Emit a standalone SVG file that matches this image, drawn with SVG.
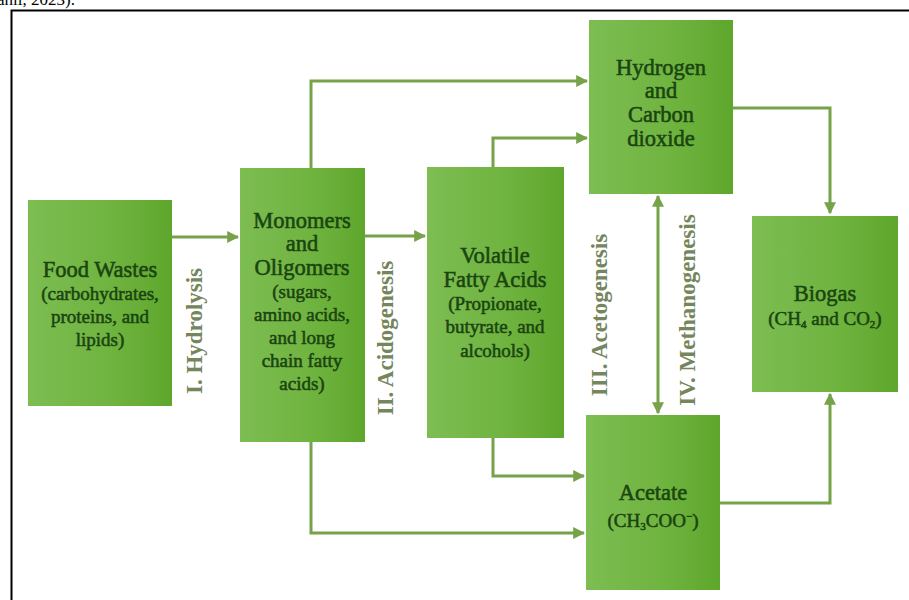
<svg xmlns="http://www.w3.org/2000/svg" width="909" height="600" viewBox="0 0 909 600">
<defs>
<linearGradient id="g" x1="0" y1="0" x2="1" y2="0">
<stop offset="0" stop-color="#7dbd52"/>
<stop offset="0.6" stop-color="#6fb33f"/>
<stop offset="1" stop-color="#5ea62c"/>
</linearGradient>
<marker id="ah" viewBox="0 0 10 10" refX="9" refY="5" markerWidth="4" markerHeight="4" orient="auto-start-reverse" markerUnits="strokeWidth">
<path d="M0,0 L10,5 L0,10 z" fill="#76a24a"/>
</marker>
<style>
.box{fill:url(#g);}
.t{font-family:"Liberation Serif","Times New Roman",serif;fill:#1a4510;text-anchor:middle;stroke:#1a4510;stroke-width:0.55;}
.h{font-size:22.5px;}
.s{font-size:19px;}
.lab{font-family:"Liberation Serif","Times New Roman",serif;font-weight:bold;font-size:23px;fill:#75855c;text-anchor:middle;}
.c{fill:none;stroke:#76a24a;stroke-width:3;}
</style>
</defs>
<rect width="909" height="600" fill="#ffffff"/>
<text x="-3" y="5" font-family="Liberation Serif, serif" font-size="17" fill="#000">ahli, 2023).</text>
<path d="M11.5,600 V10.5 H909" fill="none" stroke="#000" stroke-width="2"/>

<g id="connectors">
<path class="c" d="M172,237 H238" marker-end="url(#ah)"/>
<path class="c" d="M365,236 H425" marker-end="url(#ah)"/>
<path class="c" d="M311,168 V81 H587" marker-end="url(#ah)"/>
<path class="c" d="M493,167 V138 H587" marker-end="url(#ah)"/>
<path class="c" d="M311,442 V533 H584" marker-end="url(#ah)"/>
<path class="c" d="M493,438 V476 H584" marker-end="url(#ah)"/>
<path class="c" d="M733,108 H830 V213" marker-end="url(#ah)"/>
<path class="c" d="M720,503 H830 V394" marker-end="url(#ah)"/>
<path class="c" d="M658,196 V413" marker-start="url(#ah)" marker-end="url(#ah)"/>
</g>

<g id="food-wastes">
<rect class="box" x="28" y="200" width="144" height="206"/>
<text class="t h" x="100" y="277">Food Wastes</text>
<text class="t s" x="100" y="300">(carbohydrates,</text>
<text class="t s" x="100" y="323">proteins, and</text>
<text class="t s" x="100" y="346">lipids)</text>
</g>

<g id="monomers">
<rect class="box" x="240" y="168" width="125" height="274"/>
<text class="t h" x="302" y="228">Monomers</text>
<text class="t h" x="302" y="251">and</text>
<text class="t h" x="302" y="275">Oligomers</text>
<text class="t s" x="302" y="298">(sugars,</text>
<text class="t s" x="302" y="321">amino acids,</text>
<text class="t s" x="302" y="344">and long</text>
<text class="t s" x="302" y="367">chain fatty</text>
<text class="t s" x="302" y="390">acids)</text>
</g>

<g id="vfa">
<rect class="box" x="427" y="167" width="137" height="271"/>
<text class="t h" x="495" y="263">Volatile</text>
<text class="t h" x="495" y="287">Fatty Acids</text>
<text class="t s" x="495" y="310">(Propionate,</text>
<text class="t s" x="495" y="333">butyrate, and</text>
<text class="t s" x="495" y="357">alcohols)</text>
</g>

<g id="hydrogen-co2">
<rect class="box" x="589" y="20" width="144" height="174"/>
<text class="t h" x="661" y="75">Hydrogen</text>
<text class="t h" x="661" y="98">and</text>
<text class="t h" x="661" y="122">Carbon</text>
<text class="t h" x="661" y="146">dioxide</text>
</g>

<g id="acetate">
<rect class="box" x="586" y="415" width="134" height="175"/>
<text class="t h" x="653" y="500">Acetate</text>
<text class="t s" x="653" y="527">(CH<tspan font-size="11" dy="3">3</tspan><tspan dy="-3">COO</tspan><tspan font-size="11" dy="-7">−</tspan><tspan dy="7">)</tspan></text>
</g>

<g id="biogas">
<rect class="box" x="752" y="216" width="146" height="176"/>
<text class="t h" x="825" y="301">Biogas</text>
<text class="t s" x="825" y="325">(CH<tspan font-size="11" dy="3">4</tspan><tspan dy="-3"> and CO</tspan><tspan font-size="11" dy="3">2</tspan><tspan dy="-3">)</tspan></text>
</g>

<g id="labels">
<text class="lab" transform="translate(202,331) rotate(-90)">I. Hydrolysis</text>
<text class="lab" transform="translate(393,338) rotate(-90)">II. Acidogenesis</text>
<text class="lab" transform="translate(607,315) rotate(-90)">III. Acetogenesis</text>
<text class="lab" transform="translate(695,310) rotate(-90)">IV. Methanogenesis</text>
</g>
</svg>
